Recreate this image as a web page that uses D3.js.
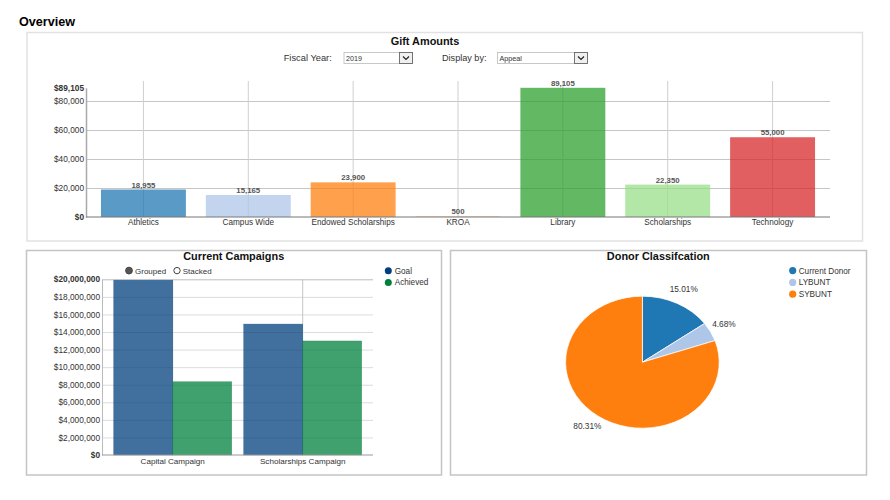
<!DOCTYPE html>
<html>
<head>
<meta charset="utf-8">
<script src="https://cdn.jsdelivr.net/npm/d3@7"></script>
<style>
html, body { margin: 0; padding: 0; background: #fff; }
svg { display: block; }
text { font-family: "Liberation Sans", Arial, sans-serif; fill: #333; }
.title { font-weight: bold; font-size: 10.9px; fill: #111; text-anchor: middle; }
.axis text { font-size: 8.3px; fill: #333; }
.axis .domain { fill: none; }
.grid .domain { display: none; }
.grid text { display: none; }
</style>
</head>
<body>
<svg id="chart" width="890" height="500"></svg>
<script>
// gift amounts
var giftCategories = ['Athletics', 'Campus Wide', 'Endowed Scholarships', 'KROA', 'Library', 'Scholarships', 'Technology'];
var giftValues = [18955, 15165, 23900, 500, 89105, 22350, 55000];
var giftColors = ['#1f77b4', '#aec7e8', '#ff7f0e', '#ffbb78', '#2ca02c', '#98df8a', '#d62728'];
var giftTicks = [0, 20000, 40000, 60000, 80000, 89105];

// campaigns
var campaignCategories = ['Capital Campaign', 'Scholarships Campaign'];
var campaignSeries = ['Goal', 'Achieved'];
var goalValues = [19900000, 14900000];
var achievedValues = [8340000, 12980000];
var campaignColors = ['#01407f', '#00803d'];
var campaignTicks = [0, 2000000, 4000000, 6000000, 8000000, 10000000, 12000000, 14000000, 16000000, 18000000, 20000000];

// donors
var donorLabels = ['Current Donor', 'LYBUNT', 'SYBUNT'];
var donorValues = [15.01, 4.68, 80.31];
var donorColors = ['#1f77b4', '#aec7e8', '#ff7f0e'];

var svg = d3.select('#chart');
var money = d3.format('$,');

function panel(x, y, w, h, color) {
	svg.append('rect').attr('x', x).attr('y', y).attr('width', w).attr('height', h)
		.attr('fill', '#fff').attr('stroke', color).attr('stroke-width', 1.5);
}

function label(x, y, txt, size, anchor) {
	return svg.append('text').attr('x', x).attr('y', y).attr('font-size', size)
		.attr('text-anchor', anchor || 'start').text(txt);
}

function styleYLabels(g, boldValues) {
	g.selectAll('.tick text')
		.attr('font-weight', d => boldValues.indexOf(d) >= 0 ? 'bold' : null)
		.attr('fill', d => boldValues.indexOf(d) >= 0 ? '#111' : '#333');
}

svg.append('text').attr('x', 19).attr('y', 26).attr('font-size', 12.6)
	.attr('font-weight', 'bold').style('fill', '#000').text('Overview');

panel(27, 32.5, 835.5, 208.5, '#e2e2e2');
panel(26.5, 250.5, 415, 224.5, '#c4c4c4');
panel(450.5, 250.5, 416, 224.5, '#c4c4c4');

// ---- Gift Amounts ----
svg.append('text').attr('class', 'title').attr('x', 425).attr('y', 45).text('Gift Amounts');

function dropdown(x, w, txt) {
	var y = 52.5, h = 11, btn = 13;
	svg.append('rect').attr('x', x).attr('y', y).attr('width', w).attr('height', h)
		.attr('fill', '#fff').attr('stroke', '#bbb').attr('stroke-width', 0.8);
	svg.append('rect').attr('x', x + w - btn).attr('y', y).attr('width', btn).attr('height', h)
		.attr('fill', '#f0f0f0').attr('stroke', '#666').attr('stroke-width', 0.9);
	svg.append('path')
		.attr('d', d3.line()([[x + w - btn + 3.5, y + 4], [x + w - btn / 2, y + 7], [x + w - 3.5, y + 4]]))
		.attr('fill', 'none').attr('stroke', '#222').attr('stroke-width', 1.2);
	label(x + 2, y + 8.3, txt, 7.2);
}
label(283.7, 61, 'Fiscal Year:', 9.3);
dropdown(344, 68.5, '2019');
label(442, 61, 'Display by:', 9.1);
dropdown(497.5, 90, 'Appeal');

var giftX = d3.scaleBand().domain(giftCategories).range([91, 825]).paddingInner(0.19).paddingOuter(0.095);
var giftY = d3.scaleLinear().domain([0, 89105]).range([217, 87.8]);

svg.append('g').attr('class', 'grid').attr('transform', 'translate(86,0)')
	.call(d3.axisRight(giftY).tickValues(giftTicks.slice(1, 5)).tickSize(744))
	.selectAll('line').attr('stroke', '#c6c6c6');
giftCategories.forEach(function(c) {
	var cx = giftX(c) + giftX.bandwidth() / 2;
	svg.append('line').attr('x1', cx).attr('x2', cx).attr('y1', 81).attr('y2', giftY(0)).attr('stroke', '#cfcfcf');
});

svg.selectAll('.gift-bar').data(giftCategories).enter().append('rect')
	.attr('class', 'gift-bar')
	.attr('x', d => giftX(d))
	.attr('width', giftX.bandwidth())
	.attr('y', (d, i) => giftY(giftValues[i]))
	.attr('height', (d, i) => giftY(0) - giftY(giftValues[i]))
	.attr('fill', (d, i) => giftColors[i])
	.attr('fill-opacity', 0.74);

svg.selectAll('.gift-label').data(giftCategories).enter().append('text')
	.attr('class', 'gift-label')
	.attr('x', d => giftX(d) + giftX.bandwidth() / 2)
	.attr('y', (d, i) => giftY(giftValues[i]) - 2)
	.attr('text-anchor', 'middle').attr('font-size', 7.8).attr('font-weight', 'bold')
	.style('fill', '#555')
	.text((d, i) => d3.format(',')(giftValues[i]));

var giftLeft = svg.append('g').attr('class', 'axis').attr('transform', 'translate(86,0)')
	.call(d3.axisLeft(giftY).tickValues(giftTicks).tickFormat(money).tickSize(0).tickPadding(2));
giftLeft.select('.domain').attr('stroke', '#aaa').attr('stroke-width', 1.5);
styleYLabels(giftLeft, [0, 89105]);

var giftBottom = svg.append('g').attr('class', 'axis').attr('transform', 'translate(0,217)')
	.call(d3.axisBottom(giftX).tickSize(0).tickPadding(2));
giftBottom.select('.domain').attr('stroke', '#777').attr('d', 'M86,0H830');
giftBottom.selectAll('text').style('font-size', '8.2px');

// ---- Current Campaigns ----
svg.append('text').attr('class', 'title').attr('x', 233.7).attr('y', 260).text('Current Campaigns');

var campX = d3.scaleBand().domain(campaignCategories).range([107.7, 367.7]).paddingInner(0.0923).paddingOuter(0.0462);
var campInner = d3.scaleBand().domain(campaignSeries).range([0, campX.bandwidth()]);
var campY = d3.scaleLinear().domain([0, 20000000]).range([455, 279.3]);
var campValues = [goalValues, achievedValues];

svg.append('g').attr('class', 'grid').attr('transform', 'translate(102,0)')
	.call(d3.axisRight(campY).tickValues(campaignTicks.slice(1)).tickSize(271))
	.selectAll('line').attr('stroke', d => d === 20000000 ? '#bdbdbd' : '#dcdcdc');
campaignCategories.forEach(function(c) {
	var cx = campX(c) + campX.bandwidth() / 2;
	svg.append('line').attr('x1', cx).attr('x2', cx).attr('y1', campY(20000000)).attr('y2', campY(0)).attr('stroke', '#c6c6c6');
});

campaignSeries.forEach(function(s, si) {
	svg.selectAll('.bar-' + s).data(campaignCategories).enter().append('rect')
		.attr('class', 'bar-' + s)
		.attr('x', d => campX(d) + campInner(s))
		.attr('width', campInner.bandwidth())
		.attr('y', (d, i) => campY(campValues[si][i]))
		.attr('height', (d, i) => campY(0) - campY(campValues[si][i]))
		.attr('fill', campaignColors[si])
		.attr('fill-opacity', 0.75)
		.attr('stroke', campaignColors[si])
		.attr('stroke-opacity', 0.5)
		.attr('stroke-width', 0.6);
});

var campLeft = svg.append('g').attr('class', 'axis').attr('transform', 'translate(102,0)')
	.call(d3.axisLeft(campY).tickValues(campaignTicks).tickFormat(money).tickSize(0).tickPadding(2));
campLeft.select('.domain').attr('stroke', '#bbb');
styleYLabels(campLeft, [0, 20000000]);

var campBottom = svg.append('g').attr('class', 'axis').attr('transform', 'translate(0,455)')
	.call(d3.axisBottom(campX).tickSize(0).tickPadding(3));
campBottom.select('.domain').attr('stroke', '#999').attr('stroke-width', 1.2).attr('d', 'M102,0H373');
campBottom.selectAll('text').style('font-size', '8.1px');

// radio buttons
svg.append('circle').attr('cx', 129).attr('cy', 270.6).attr('r', 3.4).attr('fill', '#555').attr('stroke', '#444');
label(135, 273.5, 'Grouped', 8);
svg.append('circle').attr('cx', 177).attr('cy', 270.6).attr('r', 3.2).attr('fill', '#fff').attr('stroke', '#444');
label(182.7, 273.5, 'Stacked', 8);

campaignSeries.forEach(function(s, i) {
	svg.append('circle').attr('cx', 388.3).attr('cy', 270.7 + i * 11.7).attr('r', 3.5).attr('fill', campaignColors[i]);
	label(394.7, 273.6 + i * 11.7, s, 8.2);
});

// ---- Donor Classifcation ----
svg.append('text').attr('class', 'title').attr('x', 658.3).attr('y', 260).text('Donor Classifcation');

var pieG = svg.append('g').attr('transform', 'translate(642.4,362.2) scale(1.164,1)');
var pieData = d3.pie().sort(null)(donorValues);
var pieArc = d3.arc().innerRadius(0).outerRadius(66);
var pieLabelArc = d3.arc().innerRadius(80).outerRadius(80);

pieG.selectAll('path').data(pieData).enter().append('path')
	.attr('d', pieArc)
	.attr('fill', (d, i) => donorColors[i])
	.attr('stroke', '#fff')
	.attr('stroke-width', 0.7);

pieData.forEach(function(d) {
	var c = pieLabelArc.centroid(d);
	label(641.4 + c[0] * 1.164, 362.2 + c[1] + 1.5, d.value.toFixed(2) + '%', 8.3, 'middle');
});

donorLabels.forEach(function(s, i) {
	svg.append('circle').attr('cx', 792.7).attr('cy', 270.6 + i * 11.8).attr('r', 3.6).attr('fill', donorColors[i]);
	label(798.7, 273.5 + i * 11.8, s, 8.2);
});
</script>
</body>
</html>
